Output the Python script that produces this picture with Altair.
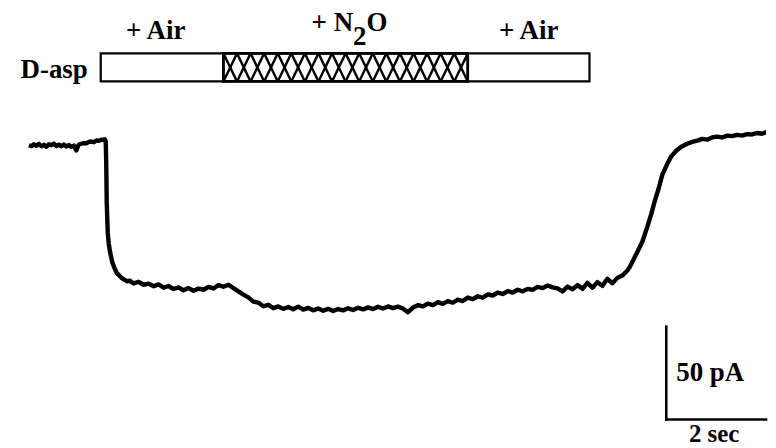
import altair as alt
import pandas as pd

# ---------------- data ----------------
trace_t = [0.0, 0.05, 0.1, 0.15, 0.2, 0.25, 0.3, 0.35, 0.4, 0.45, 0.5, 0.55, 0.6, 0.65, 0.7,
           0.75, 0.8, 0.85, 0.9, 0.95, 1.0, 1.05, 1.1, 1.15, 1.2, 1.25, 1.3, 1.35, 1.4, 1.45,
           1.5, 1.52, 1.54, 1.55, 1.56, 1.58, 1.6, 1.63, 1.67, 1.72, 1.76, 1.82, 1.87, 1.92,
           1.97, 2.02, 2.1, 2.2, 2.3, 2.4, 2.5, 2.6, 2.7, 2.8, 2.9, 3.0, 3.1, 3.2, 3.3, 3.4,
           3.5, 3.6, 3.7, 3.8, 3.9, 4.0, 4.1, 4.2, 4.3, 4.4, 4.5, 4.6, 4.7, 4.8, 4.9, 5.0,
           5.1, 5.2, 5.3, 5.4, 5.5, 5.6, 5.7, 5.8, 5.9, 6.0, 6.1, 6.2, 6.3, 6.4, 6.5, 6.6,
           6.7, 6.8, 6.9, 7.0, 7.1, 7.2, 7.3, 7.4, 7.5, 7.6, 7.7, 7.8, 7.9, 8.0, 8.1, 8.2,
           8.3, 8.4, 8.5, 8.6, 8.7, 8.8, 8.9, 9.0, 9.1, 9.2, 9.3, 9.4, 9.5, 9.6, 9.7, 9.8,
           9.9, 10.0, 10.1, 10.2, 10.3, 10.4, 10.5, 10.6, 10.7, 10.8, 10.9, 11.0, 11.1, 11.2,
           11.3, 11.4, 11.5, 11.6, 11.7, 11.8, 11.9, 12.0, 12.05, 12.12, 12.2, 12.3, 12.4,
           12.48, 12.55, 12.62, 12.7, 12.8, 12.88, 12.98, 13.08, 13.2, 13.3, 13.42, 13.5,
           13.6, 13.7, 13.8, 13.9, 14.0, 14.1, 14.2, 14.3, 14.4, 14.5, 14.6, 14.7, 14.8, 14.88]
trace_pA = [0.0, -0.5, 0.5, -0.3, 0.8, -0.6, 0.2, -0.8, 0.5, 0.0, 0.9, -0.4, 0.3, -0.6, 0.4,
            -0.7, 0.1, -0.9, -0.2, -2.8, 0.4, 0.8, 1.2, 1.0, 1.8, 2.0, 1.6, 2.6, 2.4, 3.0,
            2.8, 3.2, 2.0, -10.0, -31.0, -47.0, -53.0, -58.0, -63.0, -66.5, -68.8, -70.5, -71.8, -72.6,
            -73.4, -73.0, -74.5, -73.6, -75.2, -74.6, -76.0, -75.0, -76.8, -75.9, -77.5, -76.6, -78.2, -77.0, -78.4, -77.3,
            -77.9, -76.4, -77.2, -75.4, -76.3, -75.2, -77.0, -78.8, -80.5, -82.0, -84.3, -84.8, -86.8, -86.0, -87.8, -86.9,
            -88.2, -87.2, -88.4, -87.0, -88.6, -87.7, -89.0, -88.0, -89.2, -88.2, -89.4, -88.3, -89.0, -87.9, -88.8, -87.6,
            -88.5, -87.4, -88.3, -87.1, -88.0, -86.9, -87.8, -87.0, -88.0, -90.0, -87.5, -86.2, -86.9, -85.4, -86.2, -84.6,
            -85.5, -84.0, -84.9, -83.2, -84.0, -82.1, -83.0, -81.4, -82.2, -80.4, -81.0, -79.4, -80.2, -78.6, -79.4, -77.9,
            -78.8, -77.4, -78.0, -76.4, -77.0, -75.6, -76.6, -77.2, -78.8, -76.2, -77.6, -75.4, -77.4, -74.2,
            -76.8, -73.8, -75.8, -72.0, -74.4, -71.5, -70.2, -67.5, -65.5, -61.8, -57.5, -52.0, -44.0,
            -37.0, -30.0, -24.0, -16.0, -10.0, -6.0, -3.0, -0.8, 0.8, 1.8, 2.6, 3.4,
            3.0, 4.2, 4.6, 4.2, 5.2, 4.9, 5.6, 5.2, 6.0, 5.8, 6.6, 6.2, 7.2, 7.4]

# stimulus protocol (seconds)
stim_names = ["Air", "N2O", "Air"]
stim_start = [1.44, 3.9, 8.8]
stim_end = [3.9, 8.8, 11.24]

# scale bar
bar_time_s = 2
bar_current_pA = 50

# ---------------- layout constants ----------------
X_DOMAIN = [-0.42, 14.78]
Y_DOMAIN = [-164.5, 72.04]
BOX_TOP, BOX_BOTTOM = 49.5, 34.4
SB_X, SB_Y = 12.78, -147.8
FONT = "Liberation Serif"
FS = 27

x_scale = alt.Scale(domain=X_DOMAIN, nice=False, zero=False)
y_scale = alt.Scale(domain=Y_DOMAIN, nice=False, zero=False)


def X(field, **kw):
    return alt.X(field, type="quantitative", scale=x_scale, axis=None, **kw)


def Y(field, **kw):
    return alt.Y(field, type="quantitative", scale=y_scale, axis=None, **kw)


def txt(df, align, size=FS):
    return alt.Chart(df).mark_text(font=FONT, fontSize=size, fontWeight="bold",
                                   align=align, baseline="alphabetic").encode(
        x=X("t"), y=Y("i"), text="text:N")


trace_df = pd.DataFrame({"t": trace_t, "i": trace_pA})
trace = alt.Chart(trace_df).mark_line(color="black", strokeWidth=4.4, strokeJoin="round",
                                      clip=True).encode(
    x=X("t"), y=Y("i"), order="t:Q"
)

stim_df = pd.DataFrame({"name": stim_names, "s": stim_start, "e": stim_end,
                        "top": [BOX_TOP] * 3, "bot": [BOX_BOTTOM] * 3})
boxes = alt.Chart(stim_df).mark_rect(fill="white", stroke="black", strokeWidth=2.2).encode(
    x=X("s"), x2="e", y=Y("top"), y2="bot"
)

# cross-hatching of the N2O segment
n_cells = 18
hs, he = stim_start[1], stim_end[1]
p = (he - hs) / n_cells
hx, hx2, hy, hy2 = [], [], [], []
for k in range(n_cells):
    a = hs + k * p
    hx += [a, a + p]
    hx2 += [a + p, a]
    hy += [BOX_TOP, BOX_TOP]
    hy2 += [BOX_BOTTOM, BOX_BOTTOM]
hatch_df = pd.DataFrame({"x": hx, "x2": hx2, "y": hy, "y2": hy2})
hatch = alt.Chart(hatch_df).mark_rule(color="black", strokeWidth=2.4).encode(
    x=X("x"), x2="x2", y=Y("y"), y2="y2"
)
n2o_box = alt.Chart(stim_df.iloc[[1]]).mark_rect(fill=None, stroke="black", strokeWidth=2.6).encode(
    x=X("s"), x2="e", y=Y("top"), y2="bot"
)

# labels
lab_df = pd.DataFrame({"text": ["+ Air", "+ Air"], "t": [2.54, 10.02], "i": [57.0, 57.5]})
dasp_df = pd.DataFrame({"text": ["D-asp"], "t": [1.18], "i": [36.0]})
n2o_a_df = pd.DataFrame({"text": ["+ N"], "t": [6.5], "i": [61.3]})
n2o_b_df = pd.DataFrame({"text": ["2", "O"], "t": [6.5, 6.77], "i": [54.0, 61.3]})

# scale bar
sb_df = pd.DataFrame({"x": [SB_X, SB_X], "x2": [SB_X, SB_X + bar_time_s],
                      "y": [SB_Y + bar_current_pA, SB_Y], "y2": [SB_Y, SB_Y]})
sb = alt.Chart(sb_df).mark_rule(color="black", strokeWidth=2.6, strokeCap="square").encode(
    x=X("x"), x2="x2", y=Y("y"), y2="y2"
)
sb_t1_df = pd.DataFrame({"text": [f"{bar_current_pA} pA"], "t": [SB_X + 0.2], "i": [-126.9]})
sb_t2_df = pd.DataFrame({"text": [f"{bar_time_s} sec"], "t": [SB_X + bar_time_s / 2 - 0.04], "i": [-160.0]})

chart = alt.layer(
    boxes, hatch, n2o_box,
    txt(lab_df, "center"), txt(dasp_df, "right"), txt(n2o_a_df, "right"), txt(n2o_b_df, "left"),
    trace, sb, txt(sb_t1_df, "left"), txt(sb_t2_df, "center", 25),
).properties(
    width=760, height=440, padding=0, background="white"
).configure_view(stroke=None)

chart.save("out.html", embed_options={"renderer": "svg", "actions": False})
